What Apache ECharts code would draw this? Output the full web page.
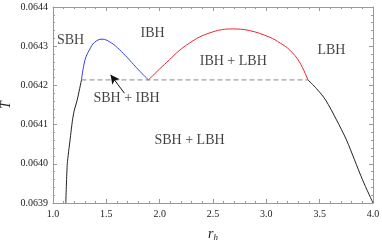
<!DOCTYPE html>
<html><head><meta charset="utf-8">
<script src="https://cdn.jsdelivr.net/npm/echarts@6/dist/echarts.min.js"></script>
<style>html,body{margin:0;padding:0;background:#fff}#c{width:382px;height:242px}</style>
</head><body><div id="c"></div>
<script>
// r_h values and temperatures
const blackLeft = [[1.12,0.06390],[1.134,0.06400],[1.16,0.064061],[1.183,0.064112],[1.20,0.064137],[1.227,0.064163],[1.267,0.064214]];
const blue = [[1.267,0.064214],[1.30,0.064265],[1.34,0.06429],[1.39,0.06431],[1.46,0.064318],[1.55,0.064308],[1.62,0.064292],[1.70,0.06427],[1.78,0.064246],[1.85,0.064226],[1.895,0.064214]];
const red = [[1.895,0.064214],[2.00,0.064242],[2.09,0.064265],[2.18,0.064288],[2.28,0.064308],[2.37,0.064323],[2.47,0.064334],[2.58,0.064342],[2.68,0.064344],[2.84,0.06434],[3.03,0.064323],[3.13,0.064308],[3.22,0.06429],[3.31,0.06426],[3.39,0.064214]];
const blackRight = [[3.39,0.064214],[3.47,0.064192],[3.555,0.064163],[3.658,0.064112],[3.751,0.064061],[3.827,0.06401],[3.902,0.063959],[4.00,0.06390]];
const coexistT = 0.064214;
const coexistRange = [1.267, 3.39];
const regionLabels = [
  {name:'SBH', r:1.164, T:0.064316},
  {name:'IBH', r:1.933, T:0.064334},
  {name:'IBH + LBH', r:2.69, T:0.064262},
  {name:'LBH', r:3.61, T:0.06429},
  {name:'SBH + IBH', r:1.69, T:0.064168},
  {name:'SBH + LBH', r:2.28, T:0.064061}
];
const arrowFrom = [1.67, 0.06418];
const arrowTo = [1.54, 0.064227];
const xTicks = [1.0, 1.5, 2.0, 2.5, 3.0, 3.5, 4.0];
const yTicks = [0.0639, 0.0640, 0.0641, 0.0642, 0.0643, 0.0644];

const serif = 'Liberation Serif, Times New Roman, serif';
const frameColor = '#9a9a9a';
const chart = echarts.init(document.getElementById('c'));
const axisCommon = {
  axisLine:{show:true, lineStyle:{color:frameColor, width:1}},
  axisTick:{show:true, inside:true, length:4, lineStyle:{color:frameColor}},
  minorTick:{show:true, splitNumber:5, length:2, lineStyle:{color:frameColor}},
  splitLine:{show:false}
};
chart.setOption({
  animation:false,
  grid:{left:53, right:9, top:7, bottom:39, containLabel:false, outerBoundsMode:'none'},
  xAxis:[
    Object.assign({type:'value', min:xTicks[0], max:xTicks[xTicks.length-1], interval:0.5, position:'bottom',
      axisLabel:{color:'#222', fontFamily:serif, fontSize:10, margin:6, formatter:v=>v.toFixed(1)},
      name:'{i|r}{s|h}', nameLocation:'middle', nameGap:24, nameMoveOverlap:false,
      nameTextStyle:{rich:{i:{fontFamily:serif, fontStyle:'italic', fontSize:14, color:'#222'}, s:{fontFamily:serif, fontStyle:'italic', fontSize:9, color:'#222', verticalAlign:'bottom', padding:[6,0,0,0]}}}
    }, axisCommon),
    Object.assign({type:'value', min:1, max:4, interval:0.5, position:'top', axisLabel:{show:false}}, axisCommon)
  ],
  yAxis:[
    Object.assign({type:'value', min:yTicks[0], max:yTicks[yTicks.length-1], interval:0.0001, position:'left',
      axisLabel:{color:'#222', fontFamily:serif, fontSize:10, margin:5, formatter:v=>v.toFixed(4)},
      name:'T', nameLocation:'middle', nameGap:40, nameRotate:90, nameMoveOverlap:false,
      nameTextStyle:{fontFamily:serif, fontStyle:'italic', fontSize:14, color:'#222'}
    }, axisCommon),
    Object.assign({type:'value', min:0.0639, max:0.0644, interval:0.0001, position:'right', axisLabel:{show:false}}, axisCommon)
  ],
  series:[
    {type:'line', data:blackLeft, smooth:0.2, showSymbol:false, lineStyle:{color:'#222', width:1}, z:3},
    {type:'line', data:blue, smooth:0.4, showSymbol:false, lineStyle:{color:'#3340ee', width:1}, z:3},
    {type:'line', data:red, smooth:0.4, showSymbol:false, lineStyle:{color:'#ee2233', width:1}, z:3},
    {type:'line', data:blackRight, smooth:0.3, showSymbol:false, lineStyle:{color:'#222', width:1}, z:3},
    {type:'line', data:[[coexistRange[0],coexistT],[coexistRange[1],coexistT]], showSymbol:false,
      lineStyle:{color:'#888', width:1, type:[5,3]}, z:2,
      markLine:{silent:true, symbol:['none','arrow'], symbolSize:[7,9], label:{show:false},
        lineStyle:{color:'#111', width:1, type:'solid'},
        data:[[{coord:arrowFrom},{coord:arrowTo}]]}
    },
    {type:'scatter', symbolSize:0, data:regionLabels.map(d=>({value:[d.r,d.T], name:d.name})),
      label:{show:true, position:'inside', formatter:p=>p.name, fontFamily:serif, fontSize:14, color:'#111'}, z:5}
  ]
});
</script></body></html>
